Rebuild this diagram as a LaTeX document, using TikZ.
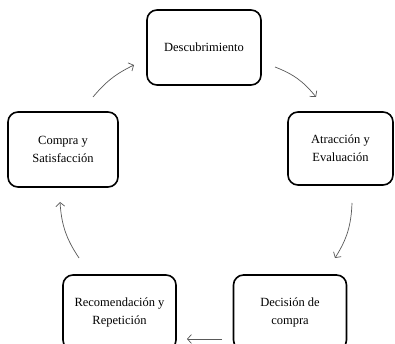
\documentclass[tikz,border=0pt]{standalone}
\usepackage{fontspec}
\setmainfont{Liberation Serif}
\usetikzlibrary{arrows.meta}
\tikzset{
  stage/.style={draw, line width=1.6pt, rounded corners=10pt, align=center,
    font=\fontsize{12.5}{18}\selectfont, inner sep=2pt},
  flow/.style={draw=black!65, line width=0.7pt,
    -{Straight Barb[length=4pt,width=9pt]}}
}
\begin{document}
\begin{tikzpicture}[x=1pt,y=1pt]
  \useasboundingbox (0,0) rectangle (395,-344);
  \fill[white] (0,0) rectangle (395,-344);
  \node[stage, minimum width=114pt, minimum height=75pt] (desc) at (204,-47.5) {Descubrimiento};
  \node[stage, minimum width=105pt, minimum height=73pt] (atrac) at (340.5,-148.5) {Atracción y\\Evaluación};
  \node[stage, minimum width=113pt, minimum height=75pt] (decis) at (290,-312.5) {Decisión de\\compra};
  \node[stage, minimum width=113pt, minimum height=75pt] (recom) at (119.5,-312.5) {Recomendación y\\Repetición};
  \node[stage, minimum width=110pt, minimum height=75pt] (compra) at (63,-149.5) {Compra y\\Satisfacción};
  % connector ends
  \coordinate (c1) at (93,-97);   \coordinate (c2) at (134,-65);
  \coordinate (c3) at (275,-67);  \coordinate (c4) at (316,-97);
  \coordinate (c5) at (352,-203); \coordinate (c6) at (335,-258);
  \coordinate (c7) at (222,-339); \coordinate (c8) at (187,-339);
  \coordinate (c9) at (79,-258);  \coordinate (c10) at (60,-202);
  \draw[flow] (c1) to[bend left=12] (c2);
  \draw[flow] (c3) to[bend left=15] (c4);
  \draw[flow] (c5) to[bend left=15] (c6);
  \draw[flow] (c7) -- (c8);
  \draw[flow] (c9) to[bend left=15] (c10);
\end{tikzpicture}
\end{document}
